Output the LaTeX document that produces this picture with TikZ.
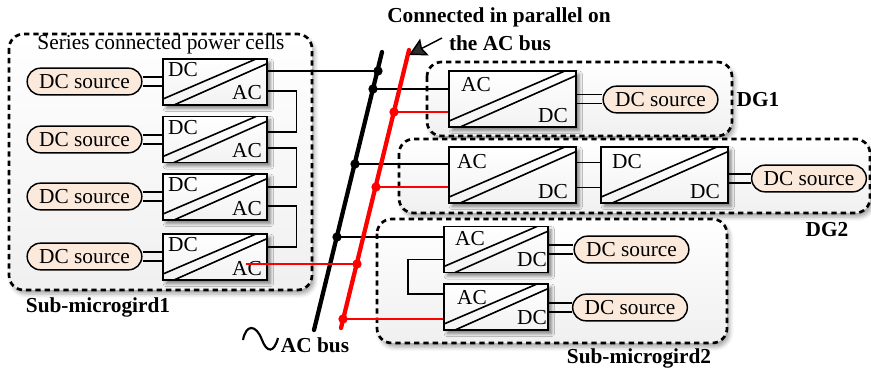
\documentclass[tikz,border=0pt]{standalone}
\usepackage{fontspec}
\setmainfont{Liberation Serif}
\usepackage{xcolor}
\usepackage{tikz}
\usetikzlibrary{arrows.meta,shadows.blur,shapes.misc}
\definecolor{peach}{RGB}{251,233,220}
\tikzstyle{txt}=[inner sep=0pt,font=\fontsize{16pt}{18pt}\selectfont]
\tikzstyle{btxt}=[inner sep=0pt,font=\fontsize{16pt}{18pt}\selectfont\bfseries]
\tikzstyle{frame}=[draw,line width=2pt,dash pattern=on 4pt off 3pt,rounded corners=11pt,top color=white,bottom color=gray!12,blur shadow={shadow xshift=2pt,shadow yshift=-3pt,shadow blur radius=3pt,shadow opacity=35}]
\tikzstyle{source}=[rounded rectangle,draw,line width=1.1pt,fill=peach,minimum width=86pt,minimum height=20pt,inner sep=0pt,font=\fontsize{16pt}{18pt}\selectfont]
\tikzstyle{conv}=[rectangle,draw,line width=1.4pt,top color=white,bottom color=gray!10,inner sep=0pt,blur shadow={shadow xshift=2.5pt,shadow yshift=-2.5pt,shadow blur radius=2.5pt,shadow opacity=50},path picture={
        \draw [line width=1.2pt] ([yshift=4.5pt]path picture bounding box.south west) -- ([xshift=-8.25pt]path picture bounding box.north east);
        \draw [line width=1.2pt] ([xshift=8.25pt]path picture bounding box.south west) -- ([yshift=-3.5pt]path picture bounding box.north east);}]
\tikzstyle{small}=[conv,minimum width=78pt,minimum height=34.5pt]
\tikzstyle{big}=[conv,minimum width=95pt,minimum height=42pt]
\tikzstyle{wire}=[line width=1.1pt]
\tikzstyle{rwire}=[line width=1.1pt,red]
\tikzstyle{bus}=[line width=3.2pt,line cap=round]
\tikzstyle{dot}=[circle,fill,inner sep=0pt,minimum size=7pt]

\begin{document}
\begin{tikzpicture}[x=0.75pt,y=-0.75pt]
        \useasboundingbox (0,0) rectangle (871,370);
        \draw [frame] (9,34) rectangle (312,290);
        \draw [frame] (427,62) rectangle (732,136);
        \draw [frame] (399,139) rectangle (870,213);
        \draw [frame] (377,219) rectangle (727,343);

        \coordinate (btop) at (382,52);
        \coordinate (bbot) at (314,330);
        \coordinate (rtop) at (409,50);
        \coordinate (rbot) at (341,328);
        \coordinate (b1) at (378,71);
        \coordinate (b2) at (373,89);
        \coordinate (b3) at (355,164);
        \coordinate (b4) at (337,237);
        \coordinate (r0) at (246,264);
        \coordinate (r1) at (394,112);
        \coordinate (r2) at (376,187);
        \coordinate (r3) at (357,264);
        \coordinate (r4) at (343,319);

        \node at (215,82) [small] (c1) {};
        \node at (215,139.5) [small] (c2) {};
        \node at (215,197) [small] (c3) {};
        \node at (215,257) [small] (c4) {};
        \node at (84.5,81.5) [source] (s1) {DC source};
        \node at (84.5,139.5) [source] (s2) {DC source};
        \node at (84.5,196.5) [source] (s3) {DC source};
        \node at (84.5,256.5) [source] (s4) {DC source};

        \node at (512.5,99) [big] (d1) {};
        \node at (660.5,99.5) [source] (s5) {DC source};
        \node at (512.5,175) [big] (d2) {};
        \node at (664.5,175) [big] (d3) {};
        \node at (809,178.5) [source] (s6) {DC source};
        \node at (496,249.5) [small] (m1) {};
        \node at (631.5,249.5) [source] (s7) {DC source};
        \node at (496,307) [small] (m2) {};
        \node at (630,307.5) [source] (s8) {DC source};

        \node at (183,70) [txt] (t1) {DC};
        \node at (247,93) [txt] (t2) {AC};
        \node at (183,128) [txt] (t3) {DC};
        \node at (247,151) [txt] (t4) {AC};
        \node at (183,185) [txt] (t5) {DC};
        \node at (247,209) [txt] (t6) {AC};
        \node at (183,245) [txt] (t7) {DC};
        \node at (247,269) [txt] (t8) {AC};
        \node at (476,85) [txt] (t9) {AC};
        \node at (553,116) [txt] (t10) {DC};
        \node at (472,162) [txt] (t11) {AC};
        \node at (553,192) [txt] (t12) {DC};
        \node at (627,162) [txt] (t13) {DC};
        \node at (705,192) [txt] (t14) {DC};
        \node at (470,239) [txt] (t15) {AC};
        \node at (532,260) [txt] (t16) {DC};
        \node at (472,298) [txt] (t17) {AC};
        \node at (532,318) [txt] (t18) {DC};

        \draw [wire] ([yshift=3.4pt]s1.east) -- ([yshift=3.4pt]s1.east -| c1.west);
        \draw [wire] ([yshift=-3.4pt]s1.east) -- ([yshift=-3.4pt]s1.east -| c1.west);
        \draw [wire] ([yshift=3.4pt]s2.east) -- ([yshift=3.4pt]s2.east -| c2.west);
        \draw [wire] ([yshift=-3.4pt]s2.east) -- ([yshift=-3.4pt]s2.east -| c2.west);
        \draw [wire] ([yshift=3.4pt]s3.east) -- ([yshift=3.4pt]s3.east -| c3.west);
        \draw [wire] ([yshift=-3.4pt]s3.east) -- ([yshift=-3.4pt]s3.east -| c3.west);
        \draw [wire] ([yshift=3.4pt]s4.east) -- ([yshift=3.4pt]s4.east -| c4.west);
        \draw [wire] ([yshift=-3.4pt]s4.east) -- ([yshift=-3.4pt]s4.east -| c4.west);
        \draw [wire] ([yshift=3.4pt]d1.east) -- ([yshift=3.4pt]d1.east -| s5.west);
        \draw [wire] ([yshift=-3.4pt]d1.east) -- ([yshift=-3.4pt]d1.east -| s5.west);
        \draw [wire] ([yshift=3.4pt]d3.east |- s6.east) -- ([yshift=3.4pt]s6.west);
        \draw [wire] ([yshift=-3.4pt]d3.east |- s6.east) -- ([yshift=-3.4pt]s6.west);
        \draw [wire] ([yshift=3.4pt]m1.east |- s7.west) -- ([yshift=3.4pt]s7.west);
        \draw [wire] ([yshift=-3.4pt]m1.east |- s7.west) -- ([yshift=-3.4pt]s7.west);
        \draw [wire] ([yshift=3.4pt]m2.east |- s8.west) -- ([yshift=3.4pt]s8.west);
        \draw [wire] ([yshift=-3.4pt]m2.east |- s8.west) -- ([yshift=-3.4pt]s8.west);

        \draw [wire] ([yshift=-6.75pt]c1.east) -- ++(28.5,0) |- ([yshift=5.6pt]c2.east);
        \draw [wire] ([yshift=-6.4pt]c2.east) -- ++(28.5,0) |- ([yshift=7.5pt]c3.east);
        \draw [wire] ([yshift=-6.75pt]c3.east) -- ++(28.5,0) |- ([yshift=7.5pt]c4.east);
        \draw [wire] ([yshift=9.4pt]d2.east) -- ([yshift=9.4pt]d3.west);
        \draw [wire] ([yshift=-9.4pt]d2.east) -- ([yshift=-9.4pt]d3.west);
        \draw [wire] ([yshift=-7.5pt]m1.west) -- ++(-35,0) |- ([yshift=9.7pt]m2.west);

        \draw [wire] (c1.east |- b1) -- (b1);
        \draw [wire] (b2) -- (d1.west |- b2);
        \draw [wire] (b3) -- (d2.west |- b3);
        \draw [wire] (b4) -- (m1.west |- b4);

        \draw [bus] (bbot) -- (btop);
        \draw [bus,red] (rbot) -- (rtop);

        \draw [rwire] (r0) -- (r3);
        \draw [rwire] (r1) -- (d1.west |- r1);
        \draw [rwire] (r2) -- (d2.west |- r2);
        \draw [rwire] (r4) -- (m2.west |- r4);

        \node at (b1) [dot] (db1) {};
        \node at (b2) [dot] (db2) {};
        \node at (b3) [dot] (db3) {};
        \node at (b4) [dot] (db4) {};
        \node at (r1) [dot,red] (dr1) {};
        \node at (r2) [dot,red] (dr2) {};
        \node at (r3) [dot,red] (dr3) {};
        \node at (r4) [dot,red] (dr4) {};

        \coordinate (atail) at (442,38);
        \coordinate (atip) at (409,55);
        \draw [-{Stealth[length=13pt,width=14pt,inset=2pt]},line width=1.1pt] (atail) to (atip);

        \draw [line width=1.6pt] (243,340) .. controls (246,324) and (256,324) .. (262,340) .. controls (267,353) and (274,353) .. (278,338);

        \node at (161,44) [txt] (cells) {Series connected power cells};
        \node at (98,307) [btxt] (sub1) {Sub-microgird1};
        \node at (639,358) [btxt] (sub2) {Sub-microgird2};
        \node at (315,345) [btxt] (acbus) {AC bus};
        \node at (758,100) [btxt] (dg1) {DG1};
        \node at (827,230) [btxt] (dg2) {DG2};
        \node at (499,17) [btxt] (par1) {Connected in parallel on};
        \node at (500,43) [btxt] (par2) {the AC bus};
      \end{tikzpicture}
\end{document}
